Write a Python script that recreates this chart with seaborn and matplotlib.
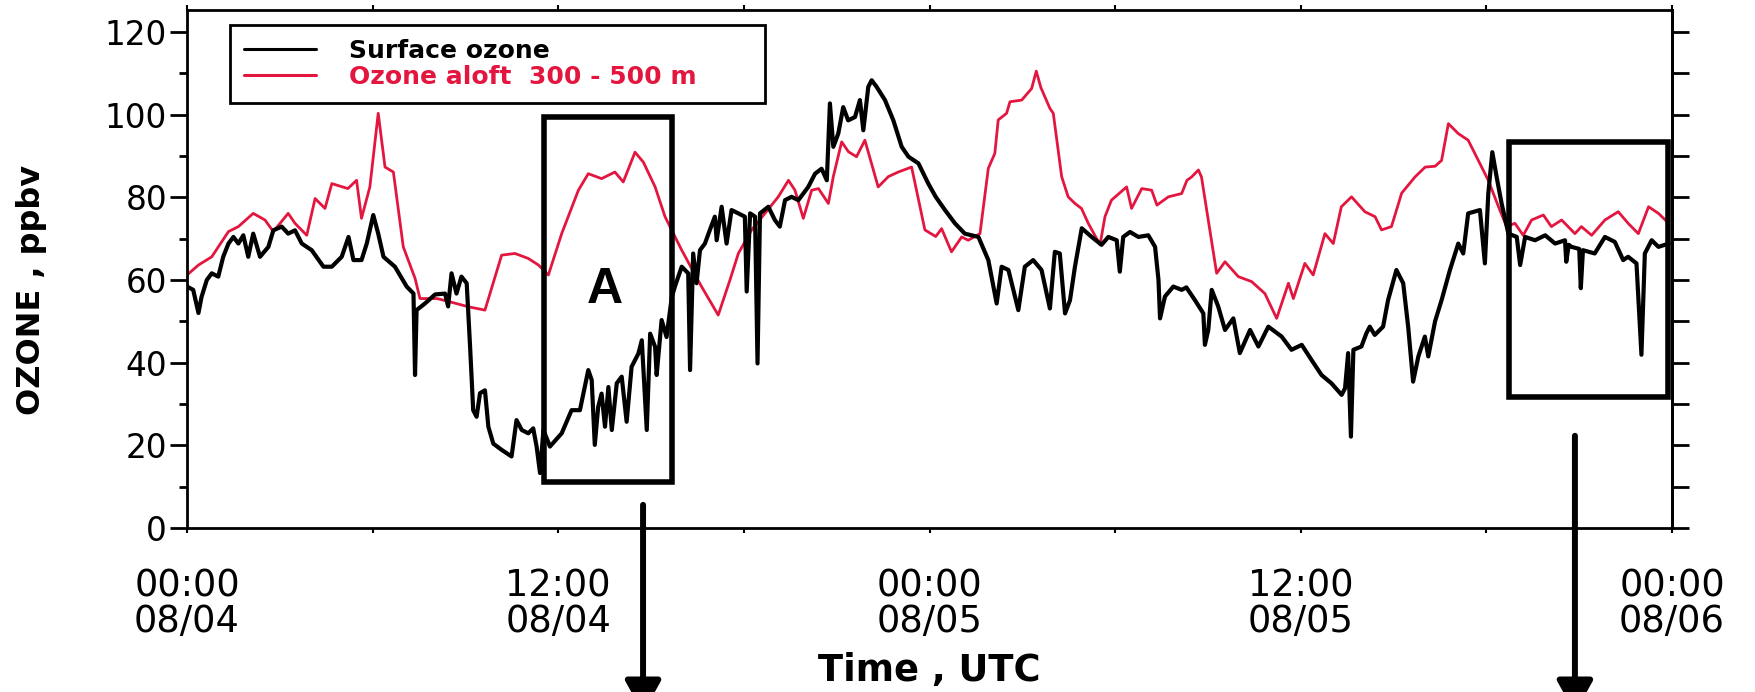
import pandas as pd
import matplotlib
matplotlib.use('Agg')
import matplotlib.pyplot as plt
from matplotlib.patches import Rectangle
from matplotlib.ticker import MultipleLocator
import seaborn as sns

# hours after 00:00 08/04 UTC and ozone (ppbv)
surface_hour = [0.0, 0.2, 0.37, 0.47, 0.64, 0.8, 1.01, 1.17, 1.34, 1.5, 1.66, 1.82, 1.98, 2.14, 2.36, 2.63, 2.79,
                3.06, 3.27, 3.49, 3.71, 4.03, 4.41, 4.68, 5.0, 5.22, 5.38, 5.64, 5.81, 6.02, 6.18, 6.35, 6.72, 7.1,
                7.32, 7.37, 7.42, 7.69, 8.02, 8.34, 8.44, 8.55, 8.71, 8.87, 9.04, 9.15, 9.25, 9.36, 9.47, 9.63, 9.74,
                9.9, 10.17, 10.49, 10.65, 10.82, 11.03, 11.19, 11.3, 11.41, 11.52, 11.73, 12.11, 12.43, 12.7, 12.97,
                13.08, 13.18, 13.29, 13.4, 13.51, 13.62, 13.73, 13.89, 14.05, 14.21, 14.37, 14.59, 14.7, 14.86,
                14.97, 15.13, 15.18, 15.34, 15.5, 15.67, 15.77, 15.99, 16.2, 16.26, 16.36, 16.47, 16.58, 16.74,
                16.9, 17.06, 17.12, 17.28, 17.44, 17.6, 17.82, 18.03, 18.09, 18.2, 18.36, 18.44, 18.52, 18.79, 19.0,
                19.16, 19.33, 19.54, 19.76, 20.08, 20.3, 20.51, 20.68, 20.78, 20.89, 21.05, 21.21, 21.37, 21.59,
                21.75, 21.86, 22.02, 22.13, 22.29, 22.56, 22.83, 23.1, 23.32, 23.64, 23.96, 24.2, 24.5, 24.82,
                25.14, 25.58, 25.9, 26.17, 26.33, 26.55, 26.87, 27.08, 27.35, 27.62, 27.89, 28.05, 28.21, 28.38,
                28.54, 28.7, 28.92, 29.24, 29.56, 29.78, 30.05, 30.15, 30.26, 30.48, 30.75, 31.07, 31.29, 31.4,
                31.45, 31.61, 31.88, 32.15, 32.3, 32.58, 32.85, 32.9, 33.01, 33.12, 33.33, 33.55, 33.82, 34.03,
                34.36, 34.63, 34.95, 35.38, 35.7, 36.03, 36.35, 36.67, 36.99, 37.32, 37.43, 37.53, 37.62, 37.7,
                37.96, 38.12, 38.23, 38.39, 38.66, 38.82, 39.09, 39.31, 39.47, 39.63, 39.8, 40.01, 40.12, 40.34,
                40.55, 40.82, 41.09, 41.25, 41.41, 41.79, 41.95, 42.06, 42.19, 42.33, 42.49, 42.71, 42.98, 43.09,
                43.25, 43.57, 43.9, 44.22, 44.54, 44.58, 44.66, 44.75, 45.0, 45.05, 45.12, 45.5, 45.83, 46.15,
                46.42, 46.58, 46.85, 47.01, 47.12, 47.34, 47.56, 47.89]
surface_ppbv = [58.4, 57.6, 52.0, 55.9, 60.0, 61.6, 60.8, 65.6, 68.8, 70.4, 68.8, 70.8, 65.6, 71.2, 65.6, 68.0, 72.0,
                72.9, 71.2, 72.0, 68.8, 67.2, 63.2, 63.2, 65.6, 70.4, 64.8, 64.8, 68.8, 75.7, 71.2, 65.6, 63.2, 58.4,
                56.7, 37.0, 52.7, 54.3, 56.5, 56.7, 53.6, 61.6, 56.7, 60.8, 59.2, 43.8, 28.5, 26.9, 32.6, 33.3, 24.5,
                20.4, 18.9, 17.3, 26.1, 23.7, 22.9, 24.1, 19.7, 13.3, 23.7, 19.7, 22.9, 28.5, 28.5, 38.2,
                35.8, 20.1, 29.3, 32.5, 24.5, 34.1, 23.7, 35.0, 36.6, 25.7, 39.0, 42.2, 45.4, 23.7,
                47.0, 43.8, 37.0, 50.3, 46.2, 55.9, 58.4, 63.2, 61.6, 38.2, 66.4, 59.2, 67.2, 68.8,
                72.1, 75.3, 69.6, 77.7, 68.8, 76.9, 76.1, 75.3, 57.2, 76.1, 75.3, 39.8, 76.1, 77.7, 74.5,
                72.9, 79.3, 80.1, 79.3, 82.5, 85.7, 86.9, 84.1, 102.7, 92.2, 95.4, 101.8, 98.6, 99.4,
                103.5, 96.2, 106.7, 108.3, 106.7, 103.5, 98.6, 92.2, 89.8, 88.2, 83.3, 80.1, 76.9, 73.7,
                71.2, 70.4, 64.8, 54.3, 63.2, 62.4, 52.7, 63.2, 64.8, 62.4, 53.1, 66.8, 66.4, 51.9,
                55.1, 63.2, 72.5, 70.4, 68.5, 70.4, 69.6, 62.0, 70.4, 71.6, 70.4, 70.8, 68.0, 60.0,
                50.7, 56.0, 58.4, 57.6, 58.2, 55.1, 51.9, 44.3, 47.9, 57.6, 53.6, 47.9, 50.7, 42.3,
                47.9, 43.9, 48.7, 46.3, 43.1, 44.3, 40.6, 37.0, 35.0, 32.2, 33.8, 42.3, 22.1, 43.1,
                43.9, 47.1, 48.7, 46.7, 48.7, 55.1, 62.4, 59.2, 48.7, 35.4, 41.5, 46.3, 41.5, 50.0,
                55.1, 62.4, 68.8, 66.4, 76.1, 76.9, 64.0, 80.9, 90.9, 84.9, 78.5, 71.2, 70.4, 63.6,
                70.4, 69.6, 70.8, 68.8, 69.6, 64.4, 68.5, 68.0, 67.5, 58.0, 67.2, 66.4, 70.4, 69.2,
                64.8, 65.6, 64.0, 41.9, 66.4, 69.6, 68.0, 68.8]

aloft_hour = [0.0, 0.37, 0.8, 1.34, 1.66, 2.14, 2.52, 2.79, 3.27, 3.49, 3.87, 4.14, 4.46, 4.68, 5.2, 5.48, 5.64,
              5.91, 6.18, 6.4, 6.67, 6.99, 7.37, 7.53, 8.08, 8.6, 9.1, 9.63, 10.17, 10.6, 11.03, 11.36, 11.68,
              12.11, 12.65, 12.97, 13.4, 13.83, 14.1, 14.48, 14.75, 15.13, 15.45, 15.99, 16.63, 17.17, 17.55,
              17.82, 18.25, 18.68, 19.11, 19.44, 19.65, 19.92, 20.19, 20.41, 20.73, 20.89, 21.16, 21.38, 21.64,
              21.91, 22.34, 22.67, 22.99, 23.42, 23.85, 24.2, 24.39, 24.71, 25.04, 25.25, 25.63, 25.9, 26.11,
              26.22, 26.49, 26.6, 26.98, 27.3, 27.45, 27.6, 27.89, 28.0, 28.27, 28.48, 28.7, 28.91, 29.13,
              29.51, 29.67, 29.88, 30.37, 30.53, 30.86, 31.18, 31.35, 31.72, 32.15, 32.32, 32.47, 32.69, 32.79,
              33.28, 33.55, 33.98, 34.41, 34.84, 35.22, 35.6, 35.76, 36.13, 36.4, 36.78, 37.05, 37.31, 37.64,
              38.07, 38.4, 38.61, 38.93, 39.26, 39.69, 40.02, 40.34, 40.55, 40.77, 41.09, 41.41, 41.74, 42.06,
              42.39, 42.65, 42.92, 43.19, 43.46, 43.84, 44.1, 44.43, 44.86, 45.07, 45.4, 45.83, 46.26, 46.58,
              46.91, 47.24, 47.56, 47.89]
aloft_ppbv = [61.2, 63.6, 65.6, 71.7, 72.9, 76.1, 74.5, 71.7, 76.1, 73.7, 70.8, 79.7, 77.3, 83.3, 82.1, 84.1, 74.9,
              82.5, 100.3, 87.3, 86.1, 68.0, 60.4, 55.5, 55.5, 54.5, 53.5, 52.7, 66.0, 66.4, 65.2, 63.6, 61.2,
              71.2, 81.7, 85.7, 84.5, 86.1, 83.7, 90.9, 88.5, 82.5, 75.3, 67.2, 58.4, 51.5, 60.0,
              66.4, 72.1, 76.1, 80.1, 84.1, 81.7, 74.9, 81.7, 82.1, 78.5, 85.0, 93.4, 91.0, 89.8,
              93.8, 82.5, 85.0, 86.1, 87.3, 72.1, 70.5, 72.4, 66.8, 70.4, 69.6, 71.2, 87.0, 90.6,
              98.7, 100.3, 103.1, 103.5, 106.3, 110.5, 106.5, 101.5, 100.3, 85.0, 80.1, 78.5, 77.3, 73.7,
              68.5, 75.3, 79.3, 82.5, 77.3, 82.1, 81.7, 78.1, 80.1, 80.9, 84.1, 84.9, 86.6, 84.9,
              61.6, 64.4, 60.8, 59.6, 56.7, 50.7, 59.2, 55.5, 64.0, 61.2, 71.2, 68.8, 77.7, 80.1,
              76.5, 75.3, 72.1, 72.9, 81.0, 84.9, 87.3, 87.5, 88.9, 97.8, 95.4, 93.8, 88.9, 84.1,
              77.7, 72.9, 73.7, 70.8, 74.5, 75.7, 72.9, 74.5, 71.2, 72.9, 70.8, 74.5, 76.5, 73.7,
              71.2, 77.7, 76.1, 73.7]

tick_hours = [0, 12, 24, 36, 48]
tick_labels = ['00:00\n08/04', '12:00\n08/04', '00:00\n08/05', '12:00\n08/05', '00:00\n08/06']

surface = pd.DataFrame({'hour': surface_hour, 'ppbv': surface_ppbv})
aloft = pd.DataFrame({'hour': aloft_hour, 'ppbv': aloft_ppbv})

sns.set_style('ticks')
plt.rcParams['font.family'] = ['DejaVu Sans']
# plain black text and axes instead of seaborn's dark grey
for key in ['text.color', 'axes.labelcolor', 'xtick.color', 'ytick.color', 'axes.edgecolor']:
    plt.rcParams[key] = 'black'

RED = '#e3163f'

fig = plt.figure(figsize=(17.56, 6.92), dpi=100)
ax = fig.add_axes([0.1065, 0.237, 0.8457, 0.7486])

sns.lineplot(data=surface, x='hour', y='ppbv', color='black', lw=3.0, sort=False, estimator=None,
             label='Surface ozone', ax=ax, zorder=3)
sns.lineplot(data=aloft, x='hour', y='ppbv', color=RED, lw=2.0, sort=False, estimator=None,
             label='Ozone aloft  300 - 500 m', ax=ax, zorder=2)

ax.set_xlim(0, 48)
ax.set_ylim(0, 125.3)

# x axis
ax.set_xticks(tick_hours, tick_labels)
ax.set_xticks([6, 18, 30, 42], minor=True)
ax.tick_params(axis='x', which='both', direction='out', length=3.5, width=1.5, top=True,
               labelsize=26.5, pad=25)
for t in ax.get_xticklabels():
    t.set_linespacing(0.95)

# y axis (left labelled, right only ticks)
ax.yaxis.set_major_locator(MultipleLocator(20))
ax.yaxis.set_minor_locator(MultipleLocator(10))
ax.tick_params(axis='y', which='major', length=12.5, width=2, labelsize=23.5, pad=2)
ax.tick_params(axis='y', which='minor', length=6, width=2)
sec = ax.secondary_yaxis('right')
sec.set_yticks(range(0, 121, 10))
sec.set_yticklabels([])
sec.tick_params(length=12.5, width=2, color='black')
sec.spines['right'].set_linewidth(2)
sec.spines['right'].set_color('black')

for s in ax.spines.values():
    s.set_linewidth(2)

ax.set_xlabel('Time , UTC', fontsize=26.5, fontweight='bold')
ax.xaxis.set_label_coords(0.5, -0.24)
ax.set_ylabel('OZONE , ppbv', fontsize=23, fontweight='bold')
ax.yaxis.set_label_coords(-0.094, 0.46)

leg = ax.legend(loc='upper left', bbox_to_anchor=(0.029, 0.971, 0.36, 0.0), mode='expand',
                prop={'weight': 'bold', 'size': 18}, frameon=True, fancybox=False, edgecolor='black',
                framealpha=1, handlelength=2.9, handletextpad=1.3, borderpad=0.55, labelspacing=0.1,
                borderaxespad=0)
leg.get_frame().set_linewidth(2)
leg.get_texts()[0].set_color('black')
leg.get_texts()[1].set_color(RED)
for h in leg.get_lines():
    h.set_linewidth(2.2)

# highlighted periods
ax.add_patch(Rectangle((11.54, 11.2), 15.68 - 11.54, 99.5 - 11.2, fill=False, lw=4, ec='black', zorder=5))
ax.add_patch(Rectangle((42.73, 31.7), 47.88 - 42.73, 93.4 - 31.7, fill=False, lw=4, ec='black', zorder=5,
                       clip_on=False))
ax.text(13.5, 57.5, 'A', fontsize=36, fontweight='bold', ha='center', va='center', color='black',
        family=['Liberation Sans', 'DejaVu Sans'])

for xh, y0 in [(14.74, 5.6), (44.86, 22.3)]:
    ax.annotate('', xy=(xh, -0.358), xycoords=('data', 'axes fraction'), xytext=(xh, y0),
                textcoords='data', annotation_clip=False,
                arrowprops=dict(arrowstyle='-|>,head_length=1.0,head_width=0.55', mutation_scale=20,
                                lw=4.3, color='black', shrinkA=0, shrinkB=0))

fig.savefig('out.png', dpi=100)
